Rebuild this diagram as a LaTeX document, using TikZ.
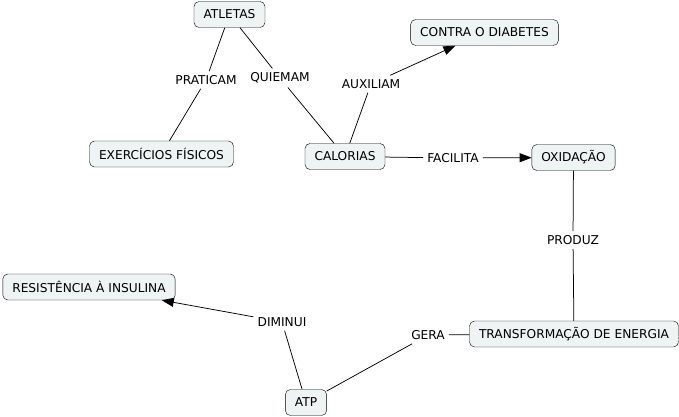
\documentclass[tikz,border=0pt]{standalone}
\usepackage{fontspec}
\setmainfont{DejaVu Sans}
\usepackage{tikz}
\usetikzlibrary{arrows.meta,positioning}
\definecolor{cmapfill}{HTML}{EEF3F3}

\begin{document}
\begin{tikzpicture}[x=1pt, y=-1pt,
    concept/.style={rectangle, rounded corners=5pt, draw, fill=cmapfill, minimum height=26pt, inner xsep=9.5pt, font=\fontsize{12.2}{14}\selectfont},
    link/.style={inner sep=4pt, font=\fontsize{12.2}{14}\selectfont},
    conn/.style={draw, line width=0.75pt},
    arr/.style={conn, -{Triangle[length=12pt,width=9pt]}}
]
    \useasboundingbox (0,0) rectangle (679,417);

    % concepts
    \node[concept] (atletas) at (229.5,14.5) {ATLETAS};
    \node[concept] (diabetes) at (484.5,32.5) {CONTRA O DIABETES};
    \node[concept] (exercicios) at (161.5,154) {EXERCÍCIOS FÍSICOS};
    \node[concept] (calorias) at (345,156.5) {CALORIAS};
    \node[concept] (oxidacao) at (573.5,157.5) {OXIDAÇÃO};
    \node[concept] (resistencia) at (89,287) {RESISTÊNCIA À INSULINA};
    \node[concept] (transf) at (574,334) {TRANSFORMAÇÃO DE ENERGIA};
    \node[concept] (atp) at (306,402.5) {ATP};

    % linking phrases
    \node[link] (praticam) at (206,80) {PRATICAM};
    \node[link] (quiemam) at (280,78) {QUIEMAM};
    \node[link] (auxiliam) at (371,84) {AUXILIAM};
    \node[link] (facilita) at (453,158) {FACILITA};
    \node[link] (produz) at (573,240) {PRODUZ};
    \node[link] (diminui) at (282,322) {DIMINUI};
    \node[link] (gera) at (428,335) {GERA};

    \draw[conn] (atletas) -- (praticam);
    \draw[conn] (praticam) -- (exercicios);
    \draw[conn] (atletas) -- (quiemam);
    \draw[conn] (quiemam) -- (calorias);
    \draw[conn] (calorias) -- (auxiliam);
    \draw[arr] (auxiliam) -- (diabetes);
    \draw[conn] (calorias) -- (facilita);
    \draw[arr] (facilita) -- (oxidacao);
    \draw[conn] (oxidacao) -- (produz);
    \draw[conn] (produz) -- (transf);
    \draw[conn] (transf) -- (gera);
    \draw[conn] (gera) -- (atp);
    \draw[conn] (atp) -- (diminui);
    \draw[arr] (diminui) -- (resistencia);
\end{tikzpicture}
\end{document}
